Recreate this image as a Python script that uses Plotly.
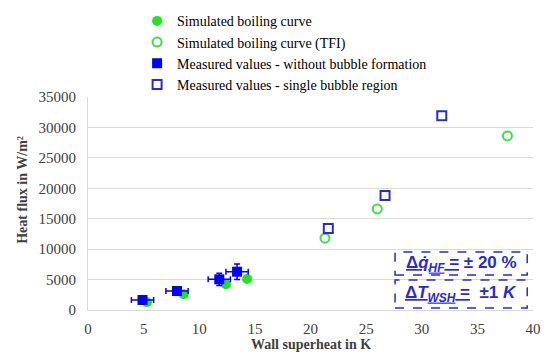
import plotly.graph_objects as go

# Data
sim_x = [5.3, 8.6, 12.4, 14.3]
sim_y = [1260, 2580, 4220, 5090]
tfi_x = [21.3, 26.0, 37.7]
tfi_y = [11800, 16600, 28600]
meas_x = [4.9, 8.0, 11.8, 13.4]
meas_y = [1640, 3120, 5040, 6290]
sb_x = [21.6, 26.7, 31.8]
sb_y = [13400, 18800, 31900]
x_err_K = 1.0
y_err_pct = 20

serif = "Liberation Serif, Times New Roman, serif"
green = "#1ee61e"
blue = "#0000ff"

fig = go.Figure()
fig.add_trace(go.Scatter(x=sim_x, y=sim_y, mode="markers", name="Simulated boiling curve",
                         marker=dict(symbol="circle", size=10, color=green)))
fig.add_trace(go.Scatter(x=tfi_x, y=tfi_y, mode="markers", name="Simulated boiling curve (TFI)",
                         marker=dict(symbol="circle-open", size=9, color="#3ee03e", line=dict(width=2))))
fig.add_trace(go.Scatter(x=meas_x, y=meas_y, mode="markers", name="Measured values - without bubble formation",
                         marker=dict(symbol="square", size=10, color=blue),
                         error_x=dict(type="constant", value=x_err_K, color=blue, thickness=1.5, width=3),
                         error_y=dict(type="percent", value=y_err_pct, color=blue, thickness=1.5, width=3)))
fig.add_trace(go.Scatter(x=sb_x, y=sb_y, mode="markers", name="Measured values - single bubble region",
                         marker=dict(symbol="square-open", size=9, color="#2b2bd6", line=dict(width=2))))

tick_font = dict(family=serif, size=15, color="#404040")
fig.update_layout(
    width=544, height=353,
    margin=dict(l=88, r=11, t=97, b=43, autoexpand=False),
    paper_bgcolor="white", plot_bgcolor="white",
    font=dict(family=serif, size=14, color="#404040"),
    showlegend=True,
    legend=dict(xref="container", yref="container", x=0.252, y=0.985, xanchor="left", yanchor="top",
                font=dict(family=serif, size=14, color="#000000"),
                bgcolor="rgba(0,0,0,0)", itemwidth=30, tracegroupgap=0),
    xaxis=dict(range=[0, 40], dtick=5, showgrid=False, zeroline=False,
               showline=True, linecolor="#d9d9d9", linewidth=1, tickfont=tick_font,
               ticklabelstandoff=5, automargin=False),
    yaxis=dict(range=[0, 35000], dtick=5000, tickformat="d", showgrid=True, gridcolor="#d9d9d9", gridwidth=1,
               zeroline=False, showline=True, linecolor="#d9d9d9", linewidth=1, tickfont=tick_font,
               ticklabelstandoff=8, automargin=False),
)

title_font = dict(family=serif, size=14, color="#404040")
fig.add_annotation(xref="paper", yref="paper", x=-0.149, y=0.563, xanchor="center", yanchor="middle",
                   text="<b>Heat flux in W/m²</b>", textangle=-90, showarrow=False, font=title_font)
fig.add_annotation(xref="paper", yref="paper", x=0.5, y=-0.164, xanchor="center", yanchor="middle",
                   text="<b>Wall superheat in K</b>", showarrow=False, font=title_font)

# dashed boxes
box_color = "#2a2ad0"
fig.add_shape(type="rect", xref="paper", yref="paper", x0=0.69, x1=0.987, y0=0.164, y1=0.272,
              line=dict(color=box_color, width=1.5, dash="dash"))
fig.add_shape(type="rect", xref="paper", yref="paper", x0=0.69, x1=0.987, y0=0.009, y1=0.141,
              line=dict(color=box_color, width=1.5, dash="dash"))

ann_font = dict(family="Liberation Sans, Arial, sans-serif", size=17, color=box_color)
fig.add_annotation(xref="paper", yref="paper", x=0.8385, y=0.218, xanchor="center", yanchor="middle",
                   text="<b><span style='text-decoration:underline'>Δ<i>q̇</i><sub><i>HF</i></sub> =</span> ± 20 %</b>",
                   showarrow=False, font=ann_font)
fig.add_annotation(xref="paper", yref="paper", x=0.8385, y=0.075, xanchor="center", yanchor="middle",
                   text="<b><span style='text-decoration:underline'>Δ<i>T</i><sub><i>WSH</i></sub> =</span>  ±1 <i>K</i></b>",
                   showarrow=False, font=ann_font)

fig.write_html("out.html")
